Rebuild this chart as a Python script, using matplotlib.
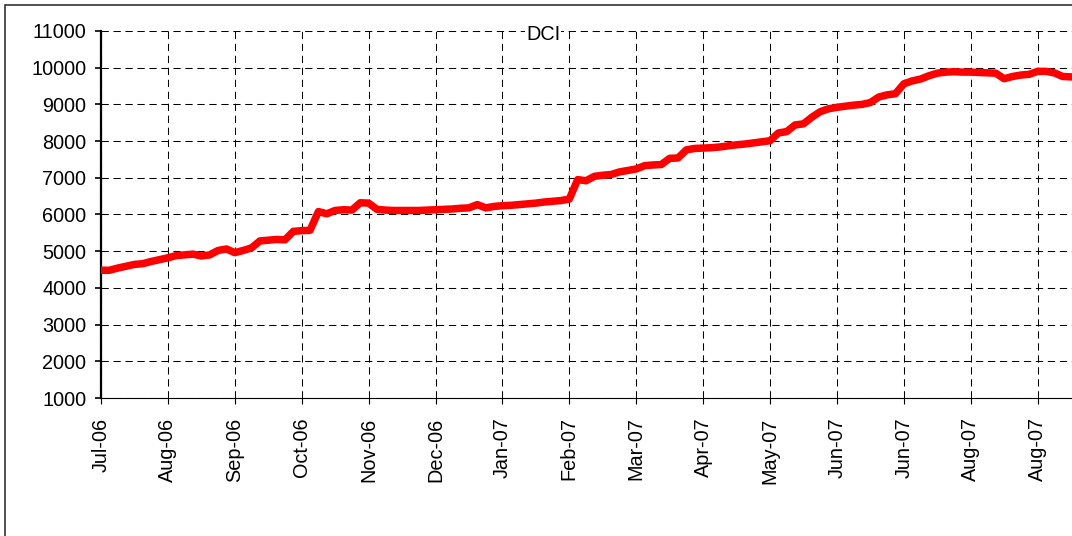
import numpy as np
from matplotlib import pyplot as plt
from matplotlib.patches import Rectangle

# DCI index, 8 samples per month tick
dci = [4480, 4480, 4540, 4590, 4640, 4660, 4720, 4770,
       4820, 4880, 4900, 4920, 4870, 4900, 5020, 5060,
       4960, 5020, 5090, 5280, 5300, 5320, 5310, 5540,
       5560, 5570, 6080, 6020, 6110, 6130, 6120, 6320,
       6310, 6140, 6120, 6110, 6110, 6110, 6110, 6120,
       6130, 6140, 6150, 6170, 6180, 6270, 6180, 6220,
       6240, 6250, 6270, 6290, 6310, 6340, 6360, 6380,
       6420, 6950, 6920, 7040, 7070, 7090, 7160, 7200,
       7240, 7330, 7350, 7360, 7530, 7540, 7760, 7800,
       7810, 7820, 7840, 7870, 7900, 7920, 7950, 7980,
       8010, 8220, 8260, 8440, 8470, 8650, 8800, 8880,
       8920, 8950, 8980, 9000, 9050, 9200, 9260, 9290,
       9560, 9640, 9690, 9780, 9850, 9880, 9890, 9880,
       9880, 9870, 9860, 9850, 9700, 9760, 9800, 9820,
       9900, 9900, 9860, 9760, 9750, 9740]
month_labels = ['Jul-06', 'Aug-06', 'Sep-06', 'Oct-06', 'Nov-06', 'Dec-06',
                'Jan-07', 'Feb-07', 'Mar-07', 'Apr-07', 'May-07', 'Jun-07',
                'Jun-07', 'Aug-07', 'Aug-07']
y_ticks = [1000, 2000, 3000, 4000, 5000, 6000, 7000, 8000, 9000, 10000, 11000]
per_tick = 8

plt.rcParams['font.family'] = ['Liberation Sans', 'DejaVu Sans']
plt.rcParams['font.size'] = 14.3

fig = plt.figure(figsize=(10.72, 5.36), dpi=100)
fig.patches.append(Rectangle((5 / 1072, -0.1), 1.2, 1 - 5 / 536 + 0.1, transform=fig.transFigure,
                             fill=False, edgecolor='#333333', linewidth=1.2))

ax = fig.add_axes([101 / 1072, 138 / 536, 1003.5 / 1072, 367 / 536])
x = np.arange(len(dci))
ax.plot(x, dci, color='#ff0000', linewidth=5.4, solid_capstyle='round', solid_joinstyle='round', zorder=3)

ax.set_xlim(0, len(month_labels) * per_tick)
ax.set_ylim(1000, 11000)
ax.set_xticks(np.arange(len(month_labels)) * per_tick)
ax.set_xticklabels(month_labels, rotation=90)
ax.set_yticks(y_ticks)

ax.grid(True, color='black', linestyle=(0, (7, 4.5)), linewidth=0.75)
ax.set_axisbelow(True)

ax.spines['right'].set_color('none')
ax.spines['top'].set_color('none')
ax.spines['left'].set_linewidth(1.6)
ax.spines['bottom'].set_linewidth(0.8)
ax.tick_params(axis='y', direction='out', length=4, width=1.2, pad=6.5)
ax.tick_params(axis='x', direction='out', length=4, width=0.8, pad=10)

fig.text(543 / 1072, 1 - 35 / 536, 'DCI', ha='center', va='center', fontsize=14.3,
         bbox=dict(facecolor='white', edgecolor='none', pad=1))

plt.savefig('out.png', dpi=100)
